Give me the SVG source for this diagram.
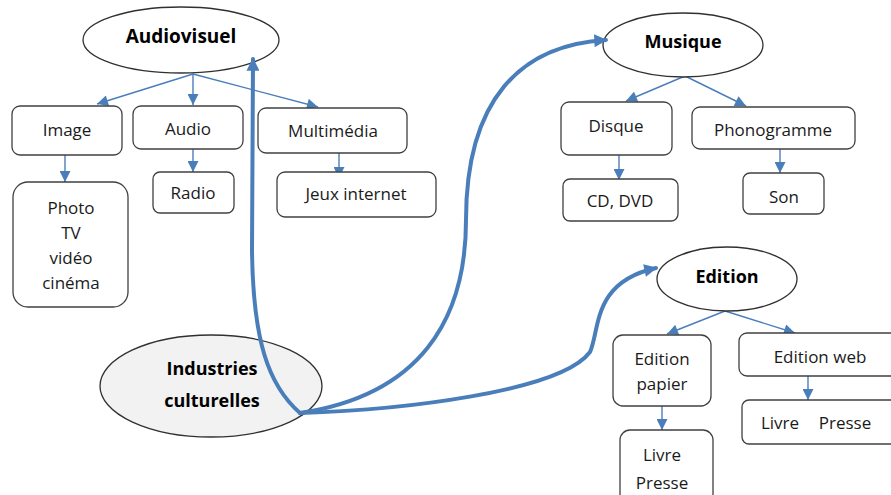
<svg xmlns="http://www.w3.org/2000/svg" width="891" height="495" viewBox="0 0 891 495">
<defs>
<style>
.box{fill:#fff;stroke:#404040;stroke-width:1.3}
.ell{fill:#fff;stroke:#303030;stroke-width:1.3}
.t{font-family:"Open Sans","Liberation Sans",sans-serif;font-size:17px;fill:#1a1a1a;text-anchor:middle}
.b{font-family:"Open Sans","Liberation Sans",sans-serif;font-size:18px;font-weight:bold;fill:#000;text-anchor:middle}
.thin{fill:none;stroke:#4A7EBB;stroke-width:1.4;marker-end:url(#ah)}
.thick{fill:none;stroke:#4A7EBB;stroke-width:4;stroke-linecap:round;marker-end:url(#ahb)}
</style>
<marker id="ah" viewBox="0 0 10 10" refX="10" refY="5" markerWidth="12" markerHeight="11" markerUnits="userSpaceOnUse" orient="auto">
<path d="M0,0 L10,5 L0,10 z" fill="#4A7EBB"/>
</marker>
<marker id="ahb" viewBox="0 0 10 10" refX="9" refY="5" markerWidth="15" markerHeight="13" markerUnits="userSpaceOnUse" orient="auto">
<path d="M0,0 L10,5 L0,10 z" fill="#4A7EBB"/>
</marker>
</defs>
<rect width="891" height="495" fill="#fff"/>

<g id="connectors">
<path class="thin" d="M193,74 L97,104"/>
<path class="thin" d="M193,74 L193,105"/>
<path class="thin" d="M193,74 L318,107"/>
<path class="thin" d="M65,155 L65,182"/>
<path class="thin" d="M193,149 L193,172"/>
<path class="thin" d="M339,153 L339,178"/>
<path class="thin" d="M685,76 L626,101"/>
<path class="thin" d="M685,76 L746,106"/>
<path class="thin" d="M619,155 L619,180"/>
<path class="thin" d="M780,149 L780,173"/>
<path class="thin" d="M725,311 L667,334"/>
<path class="thin" d="M725,311 L795,333"/>
<path class="thin" d="M662,406 L662,430"/>
<path class="thin" d="M808,376 L808,400"/>
</g>

<g id="audiovisuel"><ellipse class="ell" cx="181" cy="40" rx="98" ry="33"/><text class="b" x="181" y="43" style="font-size:19px">Audiovisuel</text></g>
<g id="image"><rect class="box" x="12" y="106" width="110" height="49" rx="8"/><text class="t" x="67" y="136">Image</text></g>
<g id="audio"><rect class="box" x="133" y="106" width="110" height="43" rx="8"/><text class="t" x="188" y="135">Audio</text></g>
<g id="multimedia"><rect class="box" x="258" y="108" width="149" height="45" rx="8"/><text class="t" x="333" y="137">Multimédia</text></g>
<g id="photo"><rect class="box" x="13" y="182" width="115" height="125" rx="15"/>
<text class="t" x="71" y="214">Photo</text><text class="t" x="71" y="239">TV</text><text class="t" x="71" y="264">vidéo</text><text class="t" x="71" y="289">cinéma</text></g>
<g id="radio"><rect class="box" x="153" y="172" width="81" height="41" rx="7"/><text class="t" x="193" y="199">Radio</text></g>
<g id="jeux"><rect class="box" x="277" y="172" width="159" height="45" rx="8"/><text class="t" x="356" y="200">Jeux internet</text></g>

<g id="musique"><ellipse class="ell" cx="683" cy="45" rx="80" ry="32"/><text class="b" x="683" y="48">Musique</text></g>
<g id="disque"><rect class="box" x="561" y="102" width="111" height="53" rx="8"/><text class="t" x="616" y="132">Disque</text></g>
<g id="phonogramme"><rect class="box" x="692" y="107" width="163" height="42" rx="8"/><text class="t" x="773" y="136">Phonogramme</text></g>
<g id="cddvd"><rect class="box" x="563" y="179" width="115" height="42" rx="7"/><text class="t" x="620" y="207">CD, DVD</text></g>
<g id="son"><rect class="box" x="743" y="173" width="81" height="41" rx="7"/><text class="t" x="784" y="203">Son</text></g>

<g id="edition"><ellipse class="ell" cx="727" cy="279" rx="70" ry="32"/><text class="b" x="727" y="283">Edition</text></g>
<g id="editionpapier"><rect class="box" x="613" y="335" width="98" height="71" rx="10"/><text class="t" x="662" y="365">Edition</text><text class="t" x="662" y="390">papier</text></g>
<g id="editionweb"><rect class="box" x="739" y="333" width="160" height="43" rx="8"/><text class="t" x="820" y="363">Edition web</text></g>
<g id="livrepresse2"><rect class="box" x="742" y="400" width="157" height="44" rx="7"/><text class="t" x="780" y="429">Livre</text><text class="t" x="845" y="429">Presse</text></g>
<g id="livrepresse1"><rect class="box" x="620" y="430" width="93" height="75" rx="10"/><text class="t" x="662" y="461">Livre</text><text class="t" x="662" y="489">Presse</text></g>

<g id="industries"><ellipse cx="211" cy="386" rx="111" ry="51" fill="#f2f2f2" stroke="#303030" stroke-width="1.3"/>
<text class="b" x="212" y="375">Industries</text><text class="b" x="212" y="407">culturelles</text></g>

<g id="main-connectors">
<path class="thick" d="M300,413 C268,385 253,340 252,250 L253,59"/>
<path class="thick" d="M300,413 C420,395 466,320 466,220 C466,100 520,45 606,40"/>
<path class="thick" d="M300,413 C400,410 560,392 590,352 C600,330 592,282 656,268"/>
</g>
</svg>
